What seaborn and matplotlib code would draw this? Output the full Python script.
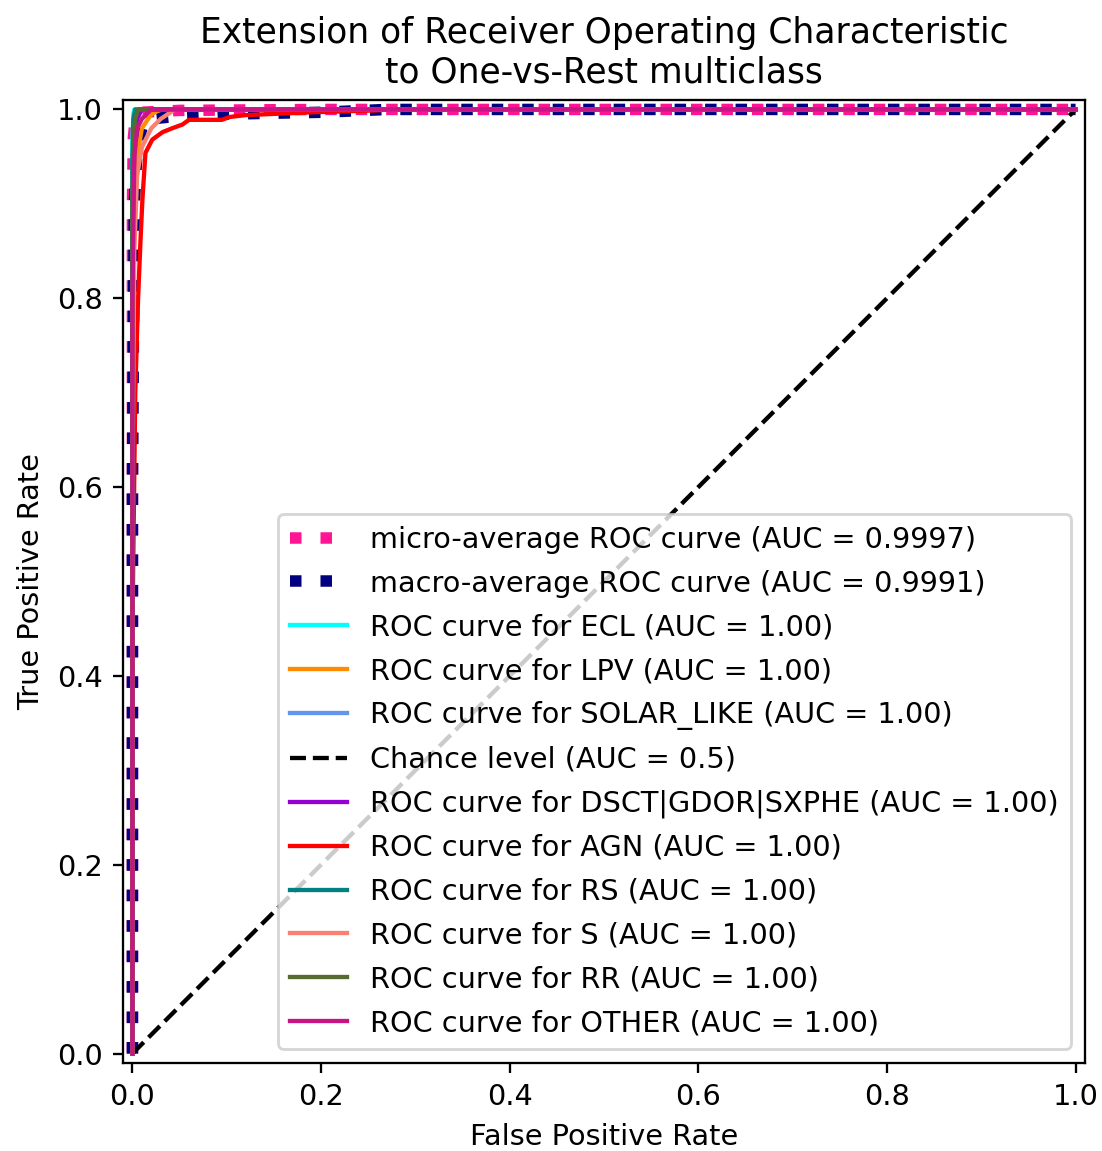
import matplotlib
matplotlib.use("Agg")
import matplotlib.pyplot as plt
import seaborn as sns
import numpy as np

# ---- data ----
micro_fpr = [0.0, 0.0, 0.001, 0.003, 0.01, 0.05, 0.2, 1.0]
micro_tpr = [0.0, 0.90, 0.97, 0.99, 0.997, 0.999, 1.0, 1.0]
micro_auc = 0.9997

macro_fpr = [0.0, 0.0, 0.002, 0.005, 0.01, 0.02, 0.05, 0.1, 0.2, 0.27, 1.0]
macro_tpr = [0.0, 0.60, 0.90, 0.96, 0.98, 0.99, 0.993, 0.995, 0.997, 1.0, 1.0]
macro_auc = 0.9991

class_names = ["ECL", "LPV", "SOLAR_LIKE", "DSCT|GDOR|SXPHE", "AGN", "RS", "S", "RR", "OTHER"]
class_colors = ["aqua", "darkorange", "cornflowerblue", "darkviolet", "red",
                "teal", "salmon", "darkolivegreen", "mediumvioletred"]
class_auc = [1.00, 1.00, 1.00, 1.00, 1.00, 1.00, 1.00, 1.00, 1.00]

fpr_ecl = [0.0, 0.0, 0.001, 0.002, 1.0]
tpr_ecl = [0.0, 0.97, 0.995, 1.0, 1.0]
fpr_lpv = [0.0, 0.0, 0.002, 0.005, 0.01, 0.02, 0.03, 1.0]
tpr_lpv = [0.0, 0.70, 0.90, 0.95, 0.98, 0.995, 1.0, 1.0]
fpr_solar = [0.0, 0.0, 0.002, 0.004, 0.008, 1.0]
tpr_solar = [0.0, 0.90, 0.97, 0.99, 1.0, 1.0]
fpr_dsct = [0.0, 0.0, 0.002, 0.005, 0.01, 1.0]
tpr_dsct = [0.0, 0.85, 0.96, 0.99, 1.0, 1.0]
fpr_agn = [0.0, 0.0, 0.003, 0.006, 0.0085, 0.0106, 0.0138, 0.021, 0.032, 0.042,
           0.053, 0.060, 0.077, 0.095, 0.103, 0.12, 0.19, 0.26, 0.27, 1.0]
tpr_agn = [0.0, 0.45, 0.70, 0.80, 0.86, 0.905, 0.954, 0.968, 0.976, 0.980,
           0.984, 0.989, 0.989, 0.989, 0.992, 0.994, 0.997, 0.999, 1.0, 1.0]
fpr_rs = [0.0, 0.0, 0.001, 0.003, 1.0]
tpr_rs = [0.0, 0.95, 0.99, 1.0, 1.0]
fpr_s = [0.0, 0.0, 0.002, 0.005, 0.01, 0.02, 0.03, 0.045, 1.0]
tpr_s = [0.0, 0.60, 0.85, 0.93, 0.96, 0.98, 0.99, 1.0, 1.0]
fpr_rr = [0.0, 0.0, 0.001, 0.003, 0.006, 1.0]
tpr_rr = [0.0, 0.90, 0.97, 0.99, 1.0, 1.0]
fpr_other = [0.0, 0.0, 0.002, 0.005, 0.01, 0.02, 1.0]
tpr_other = [0.0, 0.80, 0.95, 0.98, 0.99, 1.0, 1.0]

class_fpr = [fpr_ecl, fpr_lpv, fpr_solar, fpr_dsct, fpr_agn, fpr_rs, fpr_s, fpr_rr, fpr_other]
class_tpr = [tpr_ecl, tpr_lpv, tpr_solar, tpr_dsct, tpr_agn, tpr_rs, tpr_s, tpr_rr, tpr_other]

chance_x = [0.0, 1.0]
chance_y = [0.0, 1.0]

x_ticks = [0.0, 0.2, 0.4, 0.6, 0.8, 1.0]
y_ticks = [0.0, 0.2, 0.4, 0.6, 0.8, 1.0]

# ---- figure ----
plt.rcdefaults()
DPI = 207
fig = plt.figure(figsize=(1102 / DPI, 1151 / DPI), dpi=DPI)
ax = fig.add_axes([123 / 1102, 1 - 1063 / 1151, 962 / 1102, 963 / 1151])

sns.lineplot(x=micro_fpr, y=micro_tpr, sort=False, estimator=None, ax=ax,
             color="deeppink", linestyle=":", linewidth=4,
             label=f"micro-average ROC curve (AUC = {micro_auc:.4f})")
sns.lineplot(x=macro_fpr, y=macro_tpr, sort=False, estimator=None, ax=ax,
             color="navy", linestyle=":", linewidth=4,
             label=f"macro-average ROC curve (AUC = {macro_auc:.4f})")

for i, (name, col, auc, fx, ty) in enumerate(zip(class_names, class_colors, class_auc,
                                                  class_fpr, class_tpr)):
    sns.lineplot(x=fx, y=ty, sort=False, estimator=None, ax=ax, color=col,
                 linewidth=1.5, label=f"ROC curve for {name} (AUC = {auc:.2f})")
    if i == 2:
        sns.lineplot(x=chance_x, y=chance_y, sort=False, estimator=None, ax=ax,
                     color="k", linestyle="--", linewidth=1.5,
                     label="Chance level (AUC = 0.5)")

ax.set_xlim(-0.01, 1.01)
ax.set_ylim(-0.01, 1.01)
ax.set_xticks(x_ticks)
ax.set_yticks(y_ticks)
ax.set_xlabel("False Positive Rate")
ax.set_ylabel("True Positive Rate")
ax.set_title("Extension of Receiver Operating Characteristic\nto One-vs-Rest multiclass")
ax.legend(loc="lower right", labelspacing=0.55)

fig.savefig("out.png", dpi=DPI)
